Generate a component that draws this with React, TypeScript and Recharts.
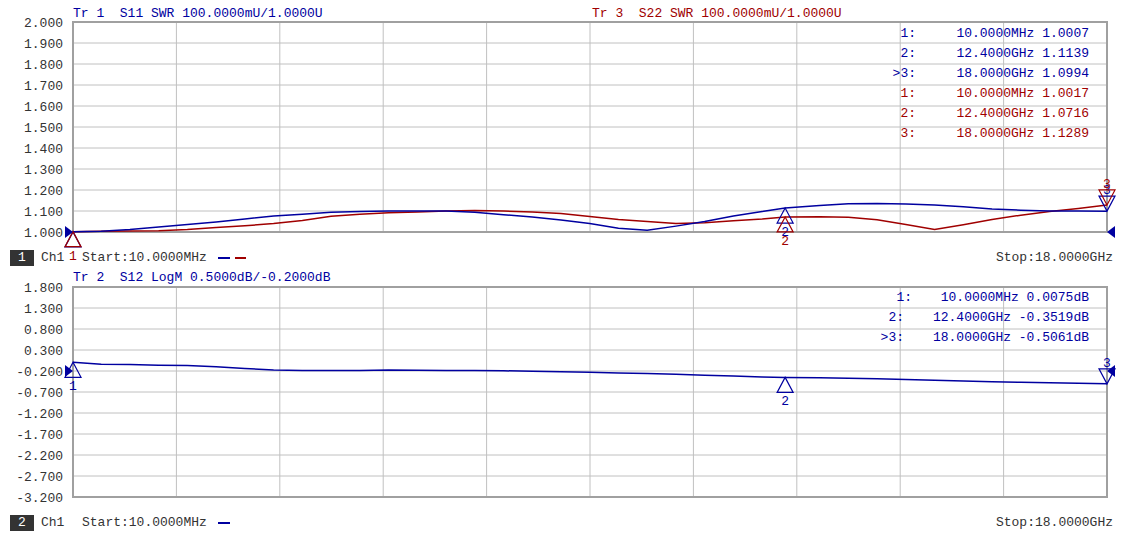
import React from 'react';
import { LineChart, Line, XAxis, YAxis, CartesianGrid, ReferenceDot, ReferenceArea } from 'recharts';

// frequency points in GHz (10 MHz .. 18 GHz)
const freqGHz = [0.01, 0.5, 1.0, 1.5, 2.0, 2.5, 3.0, 3.5, 4.0, 4.5, 5.0, 5.5, 6.0, 6.5, 7.0, 7.5, 8.0, 8.5, 9.0, 9.5, 10.0, 10.5, 11.0, 11.5, 12.0, 12.4, 13.0, 13.5, 14.0, 14.5, 15.0, 15.5, 16.0, 16.5, 17.0, 17.5, 18.0];

const s11Swr = [1.0007, 1.004, 1.012, 1.024, 1.036, 1.048, 1.062, 1.076, 1.085, 1.094, 1.098, 1.1, 1.1, 1.1, 1.094, 1.082, 1.072, 1.057, 1.04, 1.018, 1.008, 1.028, 1.05, 1.076, 1.098, 1.1139, 1.126, 1.134, 1.136, 1.133, 1.128, 1.12, 1.11, 1.104, 1.1, 1.1, 1.0994];

const s22Swr = [1.0017, 1.003, 1.005, 1.006, 1.012, 1.022, 1.03, 1.04, 1.055, 1.075, 1.085, 1.092, 1.095, 1.1, 1.102, 1.1, 1.095, 1.088, 1.074, 1.06, 1.05, 1.041, 1.044, 1.054, 1.062, 1.0716, 1.073, 1.07, 1.058, 1.036, 1.012, 1.035, 1.06, 1.08, 1.098, 1.112, 1.1289];

const s12LogM = [0.0075, -0.04, -0.045, -0.065, -0.07, -0.097, -0.14, -0.175, -0.19, -0.19, -0.19, -0.175, -0.185, -0.19, -0.19, -0.195, -0.205, -0.215, -0.23, -0.245, -0.26, -0.28, -0.3, -0.32, -0.34, -0.3519, -0.36, -0.375, -0.385, -0.4, -0.42, -0.44, -0.455, -0.47, -0.48, -0.49, -0.5061];

const swrTicks = [1.0, 1.1, 1.2, 1.3, 1.4, 1.5, 1.6, 1.7, 1.8, 1.9, 2.0];
const logmTicks = [1.8, 1.3, 0.8, 0.3, -0.2, -0.7, -1.2, -1.7, -2.2, -2.7, -3.2];
const freqTicks = [0.01, 1.809, 3.608, 5.407, 7.206, 9.005, 10.804, 12.603, 14.402, 16.201, 18.0];

// markers
const markerFreqs = [0.01, 12.4, 18.0];
const markerFreqText = ['10.0000MHz', '12.4000GHz', '18.0000GHz'];
const s11Markers = [1.0007, 1.1139, 1.0994];
const s22Markers = [1.0017, 1.0716, 1.1289];
const s12Markers = [0.0075, -0.3519, -0.5061];

const BLUE = '#0000a0';
const RED = '#a00000';
const FONT = '"Liberation Mono", "DejaVu Sans Mono", monospace';

const topData = freqGHz.map((f, i) => ({ f, s11: s11Swr[i], s22: s22Swr[i] }));
const botData = freqGHz.map((f, i) => ({ f, s12: s12LogM[i] }));

const upMarker = (color: string, label: string) => (p: any) => (
  <g>
    <path d={`M${p.cx},${p.cy} L${p.cx - 8},${p.cy + 15} L${p.cx + 8},${p.cy + 15} Z`} fill="none" stroke={color} strokeWidth={1.2} />
    <text x={p.cx} y={p.cy + 28} textAnchor="middle" fill={color} fontSize={13} fontFamily={FONT}>{label}</text>
  </g>
);

const downMarker = (color: string, label: string) => (p: any) => (
  <g>
    <path d={`M${p.cx},${p.cy} L${p.cx - 8},${p.cy - 15} L${p.cx + 8},${p.cy - 15} Z`} fill="none" stroke={color} strokeWidth={1.2} />
    <text x={p.cx} y={p.cy - 17} textAnchor="middle" fill={color} fontSize={13} fontFamily={FONT}>{label}</text>
  </g>
);

const arrowRight = (p: any) => (
  <path d={`M${p.cx},${p.cy} L${p.cx - 8},${p.cy - 6} L${p.cx - 8},${p.cy + 6} Z`} fill={BLUE} />
);
const arrowLeft = (p: any) => (
  <path d={`M${p.cx},${p.cy} L${p.cx + 8},${p.cy - 6} L${p.cx + 8},${p.cy + 6} Z`} fill={BLUE} />
);

function Txt({ x, y, color = '#333', align = 'left', children }: any) {
  const style: React.CSSProperties = {
    position: 'absolute', top: y - 8, lineHeight: '16px', fontSize: 13, color, whiteSpace: 'pre', fontFamily: FONT,
  };
  if (align === 'right') style.right = 1123 - x; else style.left = x;
  return <div style={style}>{children}</div>;
}

function ChBox({ y, n }: { y: number; n: string }) {
  return (
    <div style={{ position: 'absolute', left: 10, top: y - 8, width: 24, height: 16, background: '#333', color: '#fff', fontFamily: FONT, fontSize: 13, lineHeight: '16px', textAlign: 'center' }}>{n}</div>
  );
}

const tickStyle = { fill: '#333', fontSize: 13, fontFamily: FONT };

export default function App() {
  return (
    <div style={{ position: 'absolute', left: 0, top: 0, width: 1123, height: 541, background: '#fff', overflow: 'hidden' }}>
      <div style={{ position: 'absolute', left: 0, top: 0 }}>
        <LineChart width={1123} height={265} data={topData} margin={{ top: 22, right: 16, bottom: 33, left: 0 }}>
          <CartesianGrid stroke="#c0c0c0" strokeWidth={1} />
          <XAxis dataKey="f" type="number" domain={[0.01, 18]} ticks={freqTicks} hide />
          <YAxis type="number" domain={[1, 2]} ticks={swrTicks} width={73} axisLine={false} tickLine={false} tickSize={0} tickMargin={10} tick={tickStyle} tickFormatter={(v: number) => v.toFixed(3)} interval={0} />
          <ReferenceArea x1={0.01} x2={18} y1={1} y2={2} fill="none" stroke="#a0a0a0" strokeWidth={2} />
          <Line type="linear" dataKey="s22" stroke={RED} dot={false} strokeWidth={1.5} isAnimationActive={false} />
          <Line type="linear" dataKey="s11" stroke={BLUE} dot={false} strokeWidth={1.5} isAnimationActive={false} />
          <ReferenceDot x={markerFreqs[0]} y={s11Markers[0]} shape={upMarker(BLUE, '')} />
          <ReferenceDot x={markerFreqs[0]} y={s22Markers[0]} shape={upMarker(RED, '1')} />
          <ReferenceDot x={markerFreqs[1]} y={s11Markers[1]} shape={upMarker(BLUE, '2')} />
          <ReferenceDot x={markerFreqs[1]} y={s22Markers[1]} shape={upMarker(RED, '2')} />
          <ReferenceDot x={markerFreqs[2]} y={s11Markers[2]} shape={downMarker(BLUE, '3')} />
          <ReferenceDot x={markerFreqs[2]} y={s22Markers[2]} shape={downMarker(RED, '3')} />
          <ReferenceDot x={0.01} y={1} shape={arrowRight} />
          <ReferenceDot x={18} y={1} shape={arrowLeft} />
        </LineChart>
      </div>
      <div style={{ position: 'absolute', left: 0, top: 265 }}>
        <LineChart width={1123} height={265} data={botData} margin={{ top: 22, right: 16, bottom: 33, left: 0 }}>
          <CartesianGrid stroke="#c0c0c0" strokeWidth={1} />
          <XAxis dataKey="f" type="number" domain={[0.01, 18]} ticks={freqTicks} hide />
          <YAxis type="number" domain={[-3.2, 1.8]} ticks={logmTicks} width={73} axisLine={false} tickLine={false} tickSize={0} tickMargin={10} tick={tickStyle} tickFormatter={(v: number) => v.toFixed(3)} interval={0} />
          <ReferenceArea x1={0.01} x2={18} y1={-3.2} y2={1.8} fill="none" stroke="#a0a0a0" strokeWidth={2} />
          <Line type="linear" dataKey="s12" stroke={BLUE} dot={false} strokeWidth={1.5} isAnimationActive={false} />
          <ReferenceDot x={markerFreqs[0]} y={s12Markers[0]} shape={upMarker(BLUE, '1')} />
          <ReferenceDot x={markerFreqs[1]} y={s12Markers[1]} shape={upMarker(BLUE, '2')} />
          <ReferenceDot x={markerFreqs[2]} y={s12Markers[2]} shape={downMarker(BLUE, '3')} />
          <ReferenceDot x={0.01} y={-0.2} shape={arrowRight} />
          <ReferenceDot x={18} y={-0.2} shape={arrowLeft} />
        </LineChart>
      </div>

      {/* trace titles */}
      <Txt x={73} y={14} color={BLUE}>{'Tr 1  S11 SWR 100.0000mU/1.0000U'}</Txt>
      <Txt x={592} y={14} color={RED}>{'Tr 3  S22 SWR 100.0000mU/1.0000U'}</Txt>
      <Txt x={73} y={278} color={BLUE}>{'Tr 2  S12 LogM 0.5000dB/-0.2000dB'}</Txt>

      {/* top marker table */}
      {markerFreqs.map((_, i) => (
        <React.Fragment key={'b' + i}>
          <Txt x={916} y={34 + i * 20} color={BLUE} align="right">{(i === 2 ? '>' : '') + (i + 1) + ':'}</Txt>
          <Txt x={1089} y={34 + i * 20} color={BLUE} align="right">{markerFreqText[i] + ' ' + s11Markers[i].toFixed(4)}</Txt>
        </React.Fragment>
      ))}
      {markerFreqs.map((_, i) => (
        <React.Fragment key={'r' + i}>
          <Txt x={916} y={94 + i * 20} color={RED} align="right">{(i + 1) + ':'}</Txt>
          <Txt x={1089} y={94 + i * 20} color={RED} align="right">{markerFreqText[i] + ' ' + s22Markers[i].toFixed(4)}</Txt>
        </React.Fragment>
      ))}

      {/* bottom marker table */}
      {markerFreqs.map((_, i) => (
        <React.Fragment key={'m' + i}>
          <Txt x={i === 0 ? 912 : 904} y={298 + i * 20} color={BLUE} align="right">{(i === 2 ? '>' : '') + (i + 1) + ':'}</Txt>
          <Txt x={1089} y={298 + i * 20} color={BLUE} align="right">{markerFreqText[i] + ' ' + s12Markers[i].toFixed(4) + 'dB'}</Txt>
        </React.Fragment>
      ))}

      {/* channel status lines */}
      <ChBox y={258} n="1" />
      <Txt x={41} y={258}>Ch1</Txt>
      <Txt x={82} y={258}>Start:10.0000MHz</Txt>
      <div style={{ position: 'absolute', left: 218, top: 257, width: 12, height: 1.5, background: BLUE }} />
      <div style={{ position: 'absolute', left: 235, top: 257, width: 11, height: 1.5, background: RED }} />
      <Txt x={1113} y={258} align="right">Stop:18.0000GHz</Txt>

      <ChBox y={523} n="2" />
      <Txt x={41} y={523}>Ch1</Txt>
      <Txt x={82} y={523}>Start:10.0000MHz</Txt>
      <div style={{ position: 'absolute', left: 218, top: 522, width: 12, height: 1.5, background: BLUE }} />
      <Txt x={1113} y={523} align="right">Stop:18.0000GHz</Txt>
    </div>
  );
}
